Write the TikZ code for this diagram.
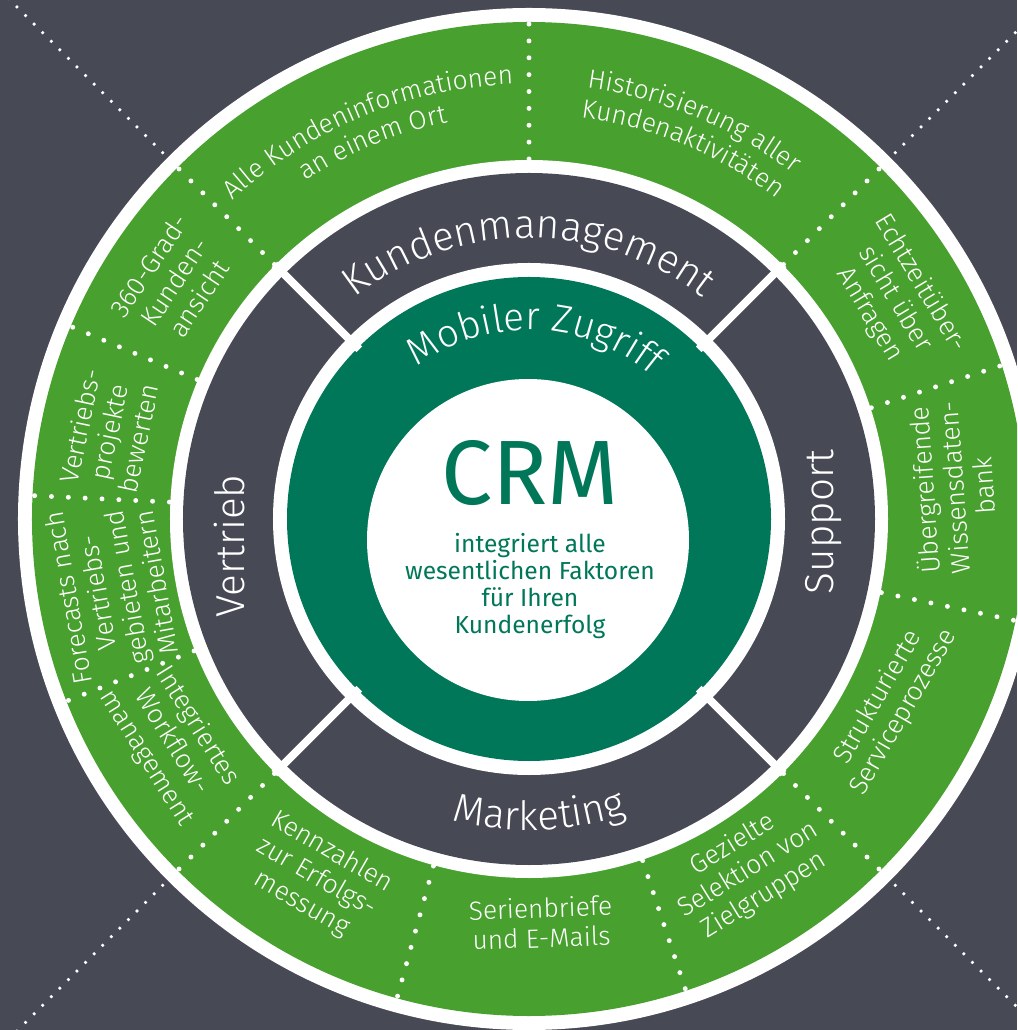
\documentclass[tikz,border=0pt]{standalone}
\usepackage{fontspec}
\setmainfont{Fira Sans Light}
\newfontfamily\crmfont{Fira Sans}
\usepackage{tikz}
\usetikzlibrary{decorations.text}
\definecolor{slate}{HTML}{474955}
\definecolor{crmgreen}{HTML}{48A12E}
\definecolor{crmteal}{HTML}{007759}

\begin{document}
\begin{tikzpicture}[x=0.02cm, y=0.02cm,
        item/.style={text=white, align=center, font=\fontsize{15}{17}\selectfont},
        area/.style={text=white, font=\fontsize{23}{23}\selectfont},
        ringdots/.style={white, line width=2.8pt, line cap=round, dash pattern=on 0pt off 9.6pt},
        bgdots/.style={white, line width=2pt, line cap=round, dash pattern=on 0pt off 6.9pt},
        divider/.style={white, line width=4.5pt},
        bent/.style={decorate, decoration={text along path, text color=white, text align=center, text={#1}}}]
            \useasboundingbox (-529,-511) rectangle (488,519);
            \clip (-529,-511) rectangle (488,519);
            \fill[slate] (-529,-511) rectangle (488,519);
            \foreach \a in {45,135,225,315}
                \draw[bgdots] (\a:518) -- (\a:760);

            \fill[white] (0,0) circle[radius=511];
            \fill[crmgreen] (0,0) circle[radius=497];
            \fill[white] (0,0) circle[radius=359];
            \fill[slate] (0,0) circle[radius=346];
            \fill[white] (0,0) circle[radius=256];
            \fill[crmteal] (0,0) circle[radius=242];
            \fill[white] (-1,-21) circle[radius=161];

            \foreach \a in {45,135,225,315}
                \draw[divider] (\a:240) -- (\a:360);
            \foreach \a in {18,45,90,135,157.2,177.3,201.5,225,254.6,288.4,315,348.2}
                \draw[ringdots] (\a:360) -- (\a:497);

            \node[text=crmteal, font=\crmfont\fontsize{52}{52}\selectfont] (crm) at (1,46) {CRM};
            \node[text=crmteal, align=center, font=\crmfont\fontsize{14}{15.3}\selectfont] (claim) at (1,-67)
                {integriert alle\\wesentlichen Faktoren\\für Ihren\\Kundenerfolg};

            \path[bent={|\fontsize{22}{22}\selectfont|Mobiler Zugriff}] (148:189) arc[start angle=148, end angle=28, radius=189];
            \path[bent={|\fontsize{23}{23}\selectfont|Kundenmanagement}] (150:281) arc[start angle=150, end angle=30, radius=281];
            \path[bent={|\fontsize{23}{23}\selectfont|Marketing}] (212:311) arc[start angle=212, end angle=332, radius=311];
            \node[area, rotate=90] (vertrieb) at (-299,-27) {Vertrieb};
            \node[area, rotate=90] (support) at (295,-3) {Support};

            \path[bent={|\fontsize{15}{17}\selectfont|Alle Kundeninformationen}] (157.5:435) arc[start angle=157.5, end angle=67.5, radius=435];
            \path[bent={|\fontsize{15}{17}\selectfont|an einem Ort}] (157.5:405) arc[start angle=157.5, end angle=67.5, radius=405];
            \path[bent={|\fontsize{15}{17}\selectfont|Historisierung aller}] (112.5:435) arc[start angle=112.5, end angle=22.5, radius=435];
            \path[bent={|\fontsize{15}{17}\selectfont|Kundenaktivitäten}] (112.5:405) arc[start angle=112.5, end angle=22.5, radius=405];

            \node[item, rotate=56.25] (grad) at (146.25:427) {360-Grad-\\Kunden-\\ansicht};
            \node[item, rotate=78] (projekte) at (168.3:429) {Vertriebs-\\projekte\\bewerten};
            \node[item, rotate=100] (forecast) at (189.7:423) {Forecasts nach\\Vertriebs-\\gebieten und\\Mitarbeitern};
            \node[item, rotate=-58] (workflow) at (212:421) {Integriertes\\Workflow-\\management};
            \node[item, rotate=-30] (kennzahlen) at (239.4:417) {Kennzahlen\\zur Erfolgs-\\messung};
            \node[item, rotate=2] (serien) at (271.7:404) {Serienbriefe\\und E-Mails};
            \node[item, rotate=31.5] (selektion) at (302:414) {Gezielte\\Selektion von\\Zielgruppen};
            \node[item, rotate=60] (service) at (332.8:407) {Strukturierte\\Serviceprozesse};
            \node[item, rotate=94] (wissen) at (4.2:425) {Übergreifende\\Wissensdaten-\\bank};
            \node[item, rotate=-59] (echtzeit) at (31:427) {Echtzeitüber-\\sicht über\\Anfragen};
        \end{tikzpicture}
\end{document}
